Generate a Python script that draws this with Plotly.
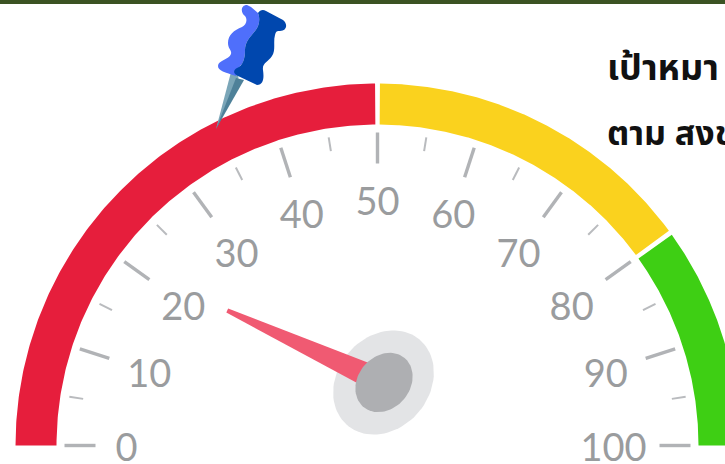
import math
import numpy as np
import plotly.graph_objects as go

# --- data ---
band_edges = [0, 50, 80, 100]
band_colors = ["#e61e3c", "#fad21e", "#3ecf14"]
major_ticks = [0, 10, 20, 30, 40, 50, 60, 70, 80, 90, 100]
minor_ticks = [5, 15, 25, 35, 45, 55, 65, 75, 85, 95]
tick_labels = ["0", "10", "20", "30", "40", "50", "60", "70", "80", "90", "100"]
label_radius = [251, 240, 240, 240, 245, 246, 245, 240, 240, 240, 236]
needle_value = 23.3
heading_lines = ["เป้าหมา", "ตาม สงข"]
heading_sizes = [36, 34]

# --- gauge geometry (pixels of a 725x464 canvas) ---
CX, CY = 377.5, 445.5
R_OUT, R_IN = 362, 321
GAP = 2.3
HUB = (383.5, 382.5)
LABEL_DY = 6


def ang(v):
    return math.pi * (1 - v / 100)


def pt(v, r):
    a = ang(v)
    return CX + r * math.cos(a), CY - r * math.sin(a)


def ellipse(cx, cy, a, b, rot_deg, n=90):
    t = np.linspace(0, 2 * np.pi, n)
    rot = math.radians(rot_deg)
    x = cx + a * np.cos(t) * math.cos(rot) - b * np.sin(t) * math.sin(rot)
    y = cy - a * np.cos(t) * math.sin(rot) - b * np.sin(t) * math.cos(rot)
    return x, y


def poly(x, y, color):
    return go.Scatter(x=list(x), y=list(y), mode="lines", fill="toself", fillcolor=color,
                      line=dict(width=0, color=color), hoverinfo="skip", showlegend=False)


fig = go.Figure()

# bands
for i, color in enumerate(band_colors):
    lo, hi = band_edges[i], band_edges[i + 1]
    d = GAP / ((R_OUT + R_IN) / 2) * 100 / math.pi
    a0 = lo + (d if i > 0 else 0)
    a1 = hi - (d if i < len(band_colors) - 1 else 0)
    vs = np.linspace(a0, a1, 200)
    ox, oy = zip(*[pt(v, R_OUT) for v in vs])
    ix, iy = zip(*[pt(v, R_IN) for v in vs[::-1]])
    fig.add_trace(poly(list(ox) + list(ix), list(oy) + list(iy), color))

# ticks
for v in major_ticks:
    x0, y0 = pt(v, 282)
    x1, y1 = pt(v, 313)
    fig.add_trace(go.Scatter(x=[x0, x1], y=[y0, y1], mode="lines",
                             line=dict(color="#b1b3b6", width=3.4), hoverinfo="skip", showlegend=False))
for v in minor_ticks:
    x0, y0 = pt(v, 298)
    x1, y1 = pt(v, 312)
    fig.add_trace(go.Scatter(x=[x0, x1], y=[y0, y1], mode="lines",
                             line=dict(color="#b9bbbe", width=2), hoverinfo="skip", showlegend=False))

# tick labels
lx, ly = zip(*[pt(v, r) for v, r in zip(major_ticks, label_radius)])
fig.add_trace(go.Scatter(x=list(lx), y=[y + LABEL_DY for y in ly], mode="text", text=tick_labels,
                         textposition="middle center", cliponaxis=False,
                         textfont=dict(family="Lato", size=38, color="#9a9c9e"),
                         hoverinfo="skip", showlegend=False))

# hub outer
ex, ey = ellipse(HUB[0], HUB[1], 56, 46, 50)
fig.add_trace(poly(ex, ey, "#e3e4e6"))

# needle
tx, ty = pt(needle_value, 202)
dirx, diry = HUB[0] - tx, HUB[1] - ty
L = math.hypot(dirx, diry)
ux, uy = dirx / L, diry / L
nx, ny = -uy, ux
tip_w, base_w = 2.2, 13
fig.add_trace(poly(
    [tx + nx * tip_w, tx - nx * tip_w, HUB[0] - nx * base_w, HUB[0] + nx * base_w],
    [ty + ny * tip_w, ty - ny * tip_w, HUB[1] - ny * base_w, HUB[1] + ny * base_w],
    "#f05a72"))

# hub inner
ex, ey = ellipse(HUB[0] + 0.5, HUB[1], 32, 26, 50)
fig.add_trace(poly(ex, ey, "#aeafb2"))

# heading
for text, y, size in zip(heading_lines, [66.5, 132], heading_sizes):
    fig.add_annotation(x=605, y=y, xref="x", yref="y", text="<b>" + text + "</b>", showarrow=False,
                       xanchor="left", yanchor="middle",
                       font=dict(family="Noto Sans, Noto Sans Thai, sans-serif", size=size, color="#111111"))

# pin icon as vector shapes
shapes = [
    dict(type="rect", xref="x", yref="y", x0=0, x1=725, y0=0, y1=4, fillcolor="#3b5323", line_width=0),
    dict(type="path", xref="x", yref="y", fillcolor="#7ba6b8", line_width=0,
         path="M230.5,74 L216,129 L239,84 L238,74 Z"),
    dict(type="path", xref="x", yref="y", fillcolor="#4e8199", line_width=0,
         path="M236,78 L244,80 L216,129 Z"),
    dict(type="path", xref="x", yref="y", fillcolor="#4f6ffb", line_width=0,
         path="M247,5 C241,5 240,12 245,16 C248,20 246,25 242,27 C234,30 228,35 228,43 C228,49 232,50 231,54 "
              "C229,60 218,60 218,66 C218,71 225,72 236,76 L240,66 C243,64 245,58 245,50 "
              "C245,42 250,37 255,31 C260,25 260,18 258,13 L251,7 Z"),
    dict(type="path", xref="x", yref="y", fillcolor="#0047ae", line_width=0,
         path="M258,13 C260,10 263,9 266,11 L283,20 C288,24 287,31 280,31 C277,31 276,31 275,35 "
              "C273,42 276,50 272,56 C268,62 262,63 263,70 C264,77 264,85 257,85 L238,76 C233,74 233,70 237,68 "
              "C243,66 245,58 245,50 C245,42 250,37 255,31 C260,25 260,18 258,13 Z"),
]

fig.update_layout(
    width=725, height=464, autosize=False,
    margin=dict(l=0, r=0, t=0, b=0),
    paper_bgcolor="white", plot_bgcolor="white",
    xaxis=dict(range=[0, 725], visible=False, fixedrange=True),
    yaxis=dict(range=[464, 0], visible=False, fixedrange=True),
    shapes=shapes, showlegend=False,
)

fig.write_html("out.html", config={"displayModeBar": False},
               post_script="document.body.style.margin='0';document.body.style.overflow='hidden';")
